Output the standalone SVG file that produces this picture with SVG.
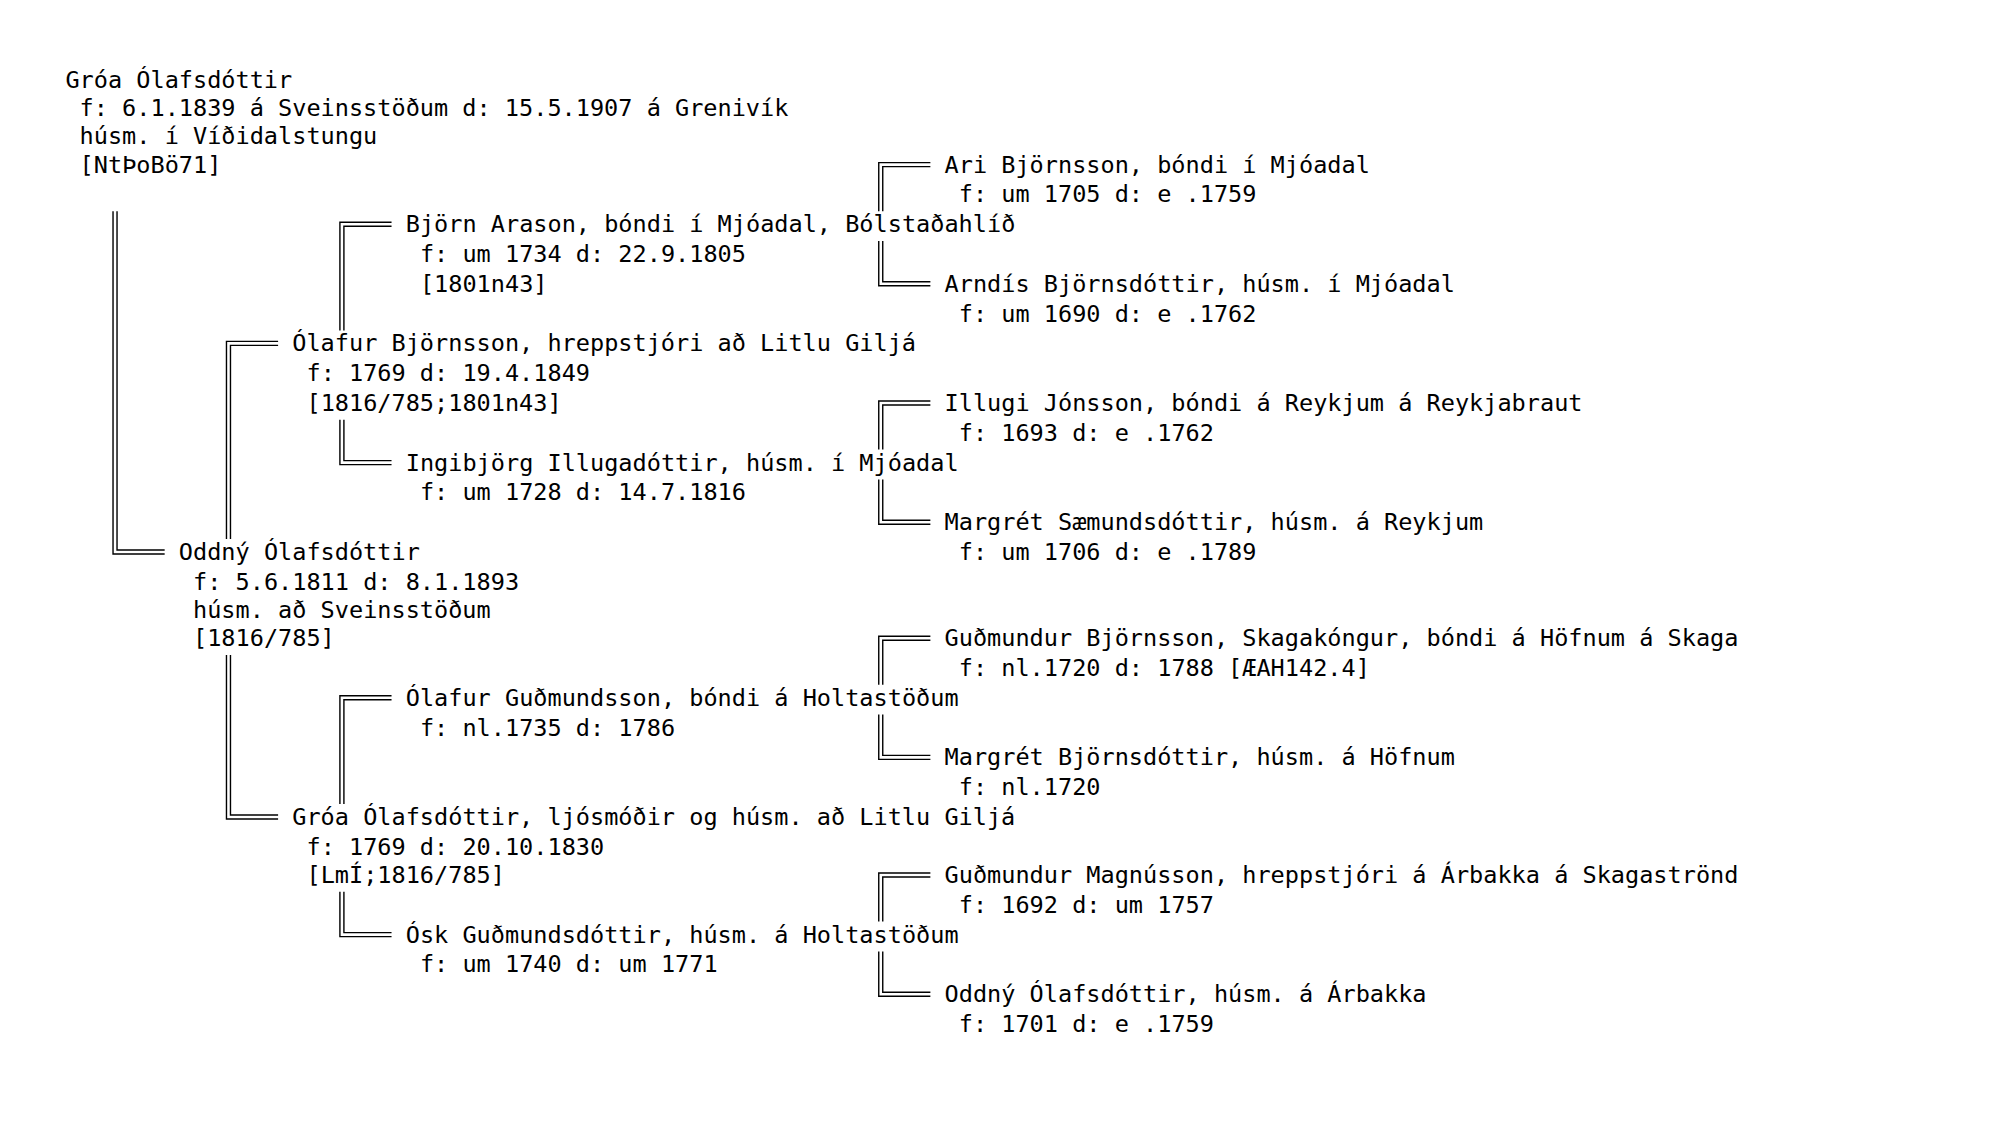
<svg xmlns="http://www.w3.org/2000/svg" width="1999" height="1133" viewBox="0 0 1999 1133">
<style>
text{font-family:"DejaVu Sans Mono","Liberation Mono",monospace;font-size:23.55px;fill:#000}
.c path{fill:none;stroke:#000;stroke-width:1.4}
</style>
<rect width="1999" height="1133" fill="#fff"/>
<g class="c" id="connectors">
<path d="M113.03,211.19V553.99H164.66M117.03,211.19V549.99H164.66"/>
<path d="M278.1,341.39H226.47V538.99M278.1,345.39H230.47V538.99"/>
<path d="M226.47,654.99V818.99H278.1M230.47,654.99V814.99H278.1"/>
<path d="M391.54,222.19H339.91V330.39M391.54,226.19H343.91V330.39"/>
<path d="M339.91,419.79V464.59H391.54M343.91,419.79V460.59H391.54"/>
<path d="M391.54,695.79H339.91V803.99M391.54,699.79H343.91V803.99"/>
<path d="M339.91,891.79V936.59H391.54M343.91,891.79V932.59H391.54"/>
<path d="M930.38,162.59H878.75V211.19M930.38,166.59H882.75V211.19"/>
<path d="M878.75,240.99V285.79H930.38M882.75,240.99V281.79H930.38"/>
<path d="M930.38,400.99H878.75V449.59M930.38,404.99H882.75V449.59"/>
<path d="M878.75,479.39V524.19H930.38M882.75,479.39V520.19H930.38"/>
<path d="M930.38,636.19H878.75V684.79M930.38,640.19H882.75V684.79"/>
<path d="M878.75,714.59V759.39H930.38M882.75,714.59V755.39H930.38"/>
<path d="M930.38,872.99H878.75V921.59M930.38,876.99H882.75V921.59"/>
<path d="M878.75,951.39V996.19H930.38M882.75,951.39V992.19H930.38"/>
</g>
<g id="n-groa">
<text x="65.4" y="87.99">Gróa Ólafsdóttir</text>
<text x="79.58" y="116.19">f: 6.1.1839 á Sveinsstöðum d: 15.5.1907 á Grenivík</text>
<text x="79.58" y="144.39">húsm. í Víðidalstungu</text>
<text x="79.58" y="172.59">[NtÞoBö71]</text>
</g>
<g id="n-oddny">
<text x="178.84" y="559.99">Oddný Ólafsdóttir</text>
<text x="193.02" y="589.79">f: 5.6.1811 d: 8.1.1893</text>
<text x="193.02" y="617.99">húsm. að Sveinsstöðum</text>
<text x="193.02" y="646.19">[1816/785]</text>
</g>
<g id="n-olafur-b">
<text x="292.28" y="351.39">Ólafur Björnsson, hreppstjóri að Litlu Giljá</text>
<text x="306.46" y="381.19">f: 1769 d: 19.4.1849</text>
<text x="306.46" y="410.99">[1816/785;1801n43]</text>
</g>
<g id="n-groa-l">
<text x="292.28" y="824.99">Gróa Ólafsdóttir, ljósmóðir og húsm. að Litlu Giljá</text>
<text x="306.46" y="854.79">f: 1769 d: 20.10.1830</text>
<text x="306.46" y="882.99">[LmÍ;1816/785]</text>
</g>
<g id="n-bjorn">
<text x="405.72" y="232.19">Björn Arason, bóndi í Mjóadal, Bólstaðahlíð</text>
<text x="419.9" y="261.99">f: um 1734 d: 22.9.1805</text>
<text x="419.9" y="291.79">[1801n43]</text>
</g>
<g id="n-ingibjorg">
<text x="405.72" y="470.59">Ingibjörg Illugadóttir, húsm. í Mjóadal</text>
<text x="419.9" y="500.39">f: um 1728 d: 14.7.1816</text>
</g>
<g id="n-olafur-g">
<text x="405.72" y="705.79">Ólafur Guðmundsson, bóndi á Holtastöðum</text>
<text x="419.9" y="735.59">f: nl.1735 d: 1786</text>
</g>
<g id="n-osk">
<text x="405.72" y="942.59">Ósk Guðmundsdóttir, húsm. á Holtastöðum</text>
<text x="419.9" y="972.39">f: um 1740 d: um 1771</text>
</g>
<g id="n-ari">
<text x="944.56" y="172.59">Ari Björnsson, bóndi í Mjóadal</text>
<text x="958.74" y="202.39">f: um 1705 d: e .1759</text>
</g>
<g id="n-arndis">
<text x="944.56" y="291.79">Arndís Björnsdóttir, húsm. í Mjóadal</text>
<text x="958.74" y="321.59">f: um 1690 d: e .1762</text>
</g>
<g id="n-illugi">
<text x="944.56" y="410.99">Illugi Jónsson, bóndi á Reykjum á Reykjabraut</text>
<text x="958.74" y="440.79">f: 1693 d: e .1762</text>
</g>
<g id="n-margret-s">
<text x="944.56" y="530.19">Margrét Sæmundsdóttir, húsm. á Reykjum</text>
<text x="958.74" y="559.99">f: um 1706 d: e .1789</text>
</g>
<g id="n-gudmundur-b">
<text x="944.56" y="646.19">Guðmundur Björnsson, Skagakóngur, bóndi á Höfnum á Skaga</text>
<text x="958.74" y="675.99">f: nl.1720 d: 1788 [ÆAH142.4]</text>
</g>
<g id="n-margret-b">
<text x="944.56" y="765.39">Margrét Björnsdóttir, húsm. á Höfnum</text>
<text x="958.74" y="795.19">f: nl.1720</text>
</g>
<g id="n-gudmundur-m">
<text x="944.56" y="882.99">Guðmundur Magnússon, hreppstjóri á Árbakka á Skagaströnd</text>
<text x="958.74" y="912.79">f: 1692 d: um 1757</text>
</g>
<g id="n-oddny-o">
<text x="944.56" y="1002.19">Oddný Ólafsdóttir, húsm. á Árbakka</text>
<text x="958.74" y="1031.99">f: 1701 d: e .1759</text>
</g>
</svg>
